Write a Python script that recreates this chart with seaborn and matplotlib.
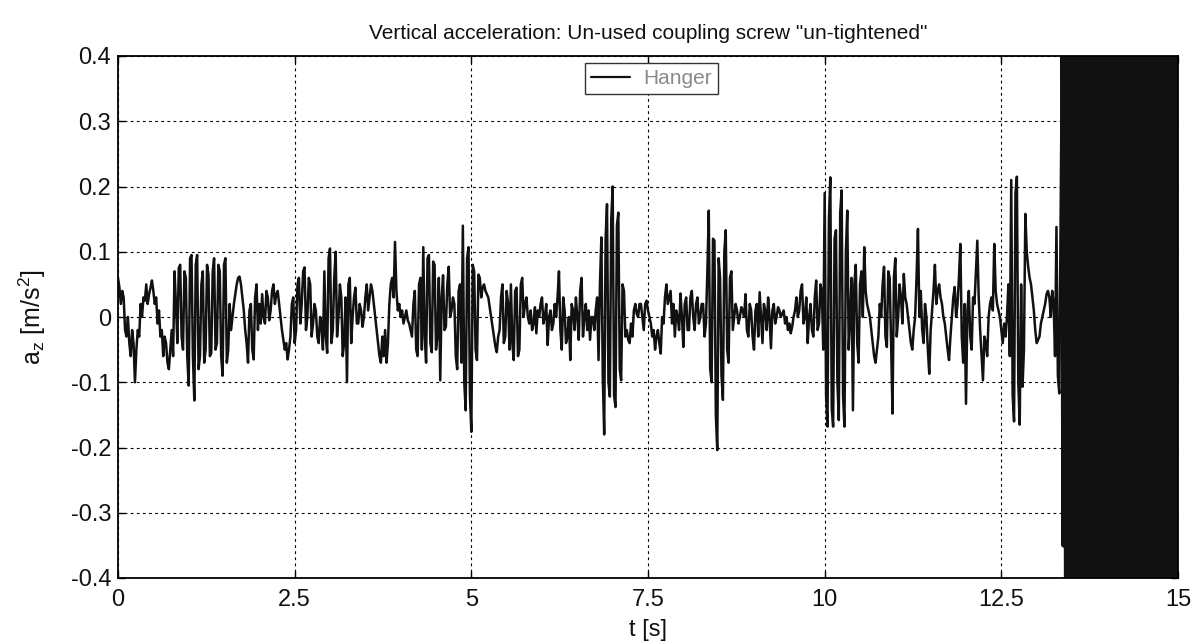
import numpy as np
import pandas as pd
import matplotlib
matplotlib.use("Agg")
import matplotlib.pyplot as plt
import seaborn as sns

# ---------------- data ----------------
dt = 0.02  # sample spacing [s]
a_main = [
    # 0.00 - 0.98 s
    0.06, 0.045, 0.02, 0.04, 0.03, -0.02, -0.03, 0.0, -0.04, -0.06,
    -0.02, -0.04, -0.10, -0.05, -0.02, -0.03, 0.02, 0.0, 0.03, 0.025,
    0.05, 0.02, 0.035, 0.045, 0.056, 0.04, 0.02, 0.03, -0.01, 0.01,
    -0.03, -0.02, -0.06, -0.03, -0.04, -0.07, -0.08, -0.05, -0.02, -0.06,
    0.07, 0.02, -0.04, 0.075, 0.08, -0.03, -0.05, 0.07, 0.06, -0.06,
    # 1.00 - 1.98 s
    -0.105, 0.09, 0.095, -0.06, -0.128, 0.08, 0.095, -0.08, -0.06, 0.05,
    0.07, -0.07, -0.05, 0.08, 0.065, -0.06, -0.055, 0.07, 0.09, -0.05,
    -0.04, 0.08, 0.07, -0.06, -0.09, 0.08, 0.09, -0.07, -0.05, 0.02,
    -0.02, 0.0, 0.02, 0.035, 0.05, 0.06, 0.062, 0.05, 0.03, 0.01,
    -0.02, -0.04, -0.07, 0.01, 0.02, -0.05, -0.065, 0.03, 0.05, -0.02,
    # 2.00 - 2.98 s
    0.02, -0.01, 0.035, 0.0, -0.01, 0.04, 0.03, -0.005, 0.01, 0.04,
    0.05, 0.02, 0.035, 0.04, 0.02, 0.0, -0.02, -0.035, -0.05, -0.04,
    -0.065, -0.05, -0.03, 0.02, 0.03, -0.04, -0.02, 0.05, 0.06, -0.01,
    0.02, 0.07, 0.076, -0.02, 0.0, 0.06, 0.05, -0.03, -0.01, 0.02,
    0.01, -0.03, -0.04, 0.0, -0.01, -0.05, 0.07, -0.03, -0.055, 0.09,
    # 3.00 - 3.98 s
    0.105, -0.04, -0.02, 0.06, 0.10, -0.03, 0.0, 0.05, 0.03, -0.06,
    -0.04, 0.03, -0.10, 0.05, 0.06, -0.04, 0.0, 0.03, 0.045, -0.01,
    -0.01, 0.02, 0.01, -0.015, 0.0, 0.03, 0.05, 0.01, 0.03, 0.05,
    0.04, 0.02, 0.0, -0.02, -0.04, -0.06, -0.07, -0.03, -0.06, -0.02,
    -0.07, -0.04, 0.02, 0.05, 0.06, 0.03, 0.115, 0.04, 0.01, 0.02,
    # 4.00 - 4.98 s
    0.0, 0.01, -0.01, 0.0, 0.01, -0.005, -0.01, -0.02, -0.03, 0.02,
    0.04, -0.05, -0.06, 0.05, 0.06, -0.05, 0.107, -0.03, -0.07, 0.09,
    0.095, -0.04, -0.054, 0.085, 0.08, -0.05, -0.03, 0.06, -0.097, 0.03,
    0.064, -0.02, -0.015, 0.05, 0.077, 0.0, 0.01, 0.03, 0.02, -0.06,
    -0.08, 0.04, 0.05, -0.07, 0.14, -0.10, -0.143, 0.09, 0.107, -0.12,
    # 5.00 - 5.98 s
    -0.176, 0.08, 0.07, -0.05, -0.066, 0.065, 0.06, 0.03, 0.045, 0.05,
    0.04, 0.035, 0.03, 0.015, 0.0, -0.015, -0.03, -0.045, -0.054, -0.03,
    -0.02, 0.03, 0.05, -0.04, -0.03, 0.04, 0.02, -0.05, 0.05, -0.04,
    -0.066, 0.04, 0.045, -0.06, -0.05, 0.05, 0.06, 0.0, 0.02, 0.03,
    0.0, -0.01, 0.01, -0.02, -0.01, 0.015, -0.025, 0.01, 0.0, 0.02,
    # 6.00 - 6.98 s
    0.03, -0.01, 0.0, 0.02, -0.043, 0.0, 0.01, -0.02, -0.01, 0.02,
    0.0, 0.03, 0.07, -0.02, -0.05, 0.03, 0.01, -0.04, -0.03, 0.0,
    -0.066, 0.02, 0.01, -0.02, 0.03, 0.0, -0.035, 0.04, 0.06, -0.03,
    0.0, 0.02, -0.02, 0.01, -0.035, 0.0, 0.0, -0.02, 0.01, 0.03,
    -0.066, 0.05, 0.122, -0.09, -0.18, 0.12, 0.173, -0.10, -0.122, 0.15,
    # 7.00 - 7.98 s
    0.20, -0.12, -0.138, 0.14, 0.16, -0.08, -0.097, 0.05, 0.04, -0.03,
    -0.02, -0.035, -0.04, -0.01, -0.03, 0.01, 0.02, 0.005, 0.0, 0.02,
    0.02, 0.0, -0.02, 0.02, 0.025, 0.01, 0.0, -0.01, -0.03, -0.02,
    -0.05, -0.03, -0.02, -0.04, -0.056, 0.0, -0.01, 0.03, 0.05, 0.02,
    0.03, 0.04, -0.01, 0.02, -0.03, 0.01, 0.0, -0.02, 0.036, 0.0,
    # 8.00 - 8.98 s
    -0.046, 0.02, 0.03, -0.02, -0.02, 0.03, 0.04, 0.0, -0.02, 0.02,
    0.03, -0.01, 0.0, 0.02, 0.02, -0.03, -0.01, 0.07, 0.163, -0.08,
    -0.10, 0.12, 0.117, -0.15, -0.204, 0.09, 0.06, -0.09, -0.127, 0.10,
    0.133, -0.05, -0.07, 0.06, 0.07, -0.02, 0.0, 0.02, 0.01, -0.01,
    0.0, 0.015, 0.01, 0.0, 0.035, -0.02, -0.03, 0.02, 0.01, -0.03,
    # 9.00 - 9.98 s
    -0.05, 0.01, 0.02, -0.03, 0.038, 0.0, -0.04, 0.02, 0.01, -0.02,
    0.03, 0.0, -0.048, 0.01, 0.02, -0.01, 0.0, 0.015, 0.01, 0.0,
    0.005, 0.01, -0.01, 0.0, -0.02, -0.01, -0.025, -0.015, 0.0, 0.01,
    0.03, 0.0, 0.01, 0.04, 0.05, -0.01, 0.0, 0.03, -0.04, 0.0,
    0.02, -0.02, -0.03, 0.03, 0.056, -0.02, -0.01, 0.05, 0.04, -0.05,
    # 10.00 - 10.98 s
    0.19, -0.12, -0.168, 0.15, 0.214, -0.14, -0.168, 0.12, 0.133, -0.10,
    -0.158, 0.16, 0.194, -0.12, -0.168, 0.10, 0.163, -0.05, 0.0, 0.06,
    -0.143, 0.05, 0.08, -0.04, -0.07, 0.05, 0.07, 0.0, 0.107, 0.04,
    0.02, 0.01, 0.0, -0.02, -0.04, -0.06, -0.07, -0.05, -0.03, 0.02,
    0.0, 0.05, 0.077, -0.03, -0.046, 0.07, 0.06, -0.04, -0.148, 0.06,
    # 11.00 - 11.98 s
    0.09, -0.03, 0.0, 0.05, 0.03, -0.01, 0.066, 0.03, 0.02, 0.0,
    -0.02, -0.04, -0.05, -0.02, 0.0, 0.06, 0.135, 0.0, 0.04, -0.02,
    -0.04, 0.02, 0.0, -0.05, -0.087, -0.02, 0.01, 0.04, 0.08, 0.02,
    0.04, 0.05, 0.03, 0.02, 0.0, -0.01, -0.03, -0.05, -0.066, -0.03,
    0.0, 0.03, 0.046, 0.0, 0.02, 0.06, 0.112, -0.03, -0.07, 0.02,
    # 12.00 - 12.98 s
    -0.133, 0.01, 0.04, -0.03, -0.05, 0.03, 0.02, 0.07, 0.117, 0.03,
    -0.02, -0.06, -0.097, -0.03, -0.04, -0.06, 0.0, 0.02, 0.03, 0.01,
    0.112, 0.04, 0.02, 0.01, 0.0, -0.02, -0.04, -0.01, -0.03, 0.0,
    0.05, -0.06, 0.21, -0.12, -0.16, 0.19, 0.215, -0.10, -0.165, 0.05,
    -0.107, -0.05, 0.158, 0.10, 0.077, 0.06, 0.05, 0.03, 0.01, -0.02,
    # 13.00 - 13.36 s
    -0.04, -0.035, -0.03, -0.01, 0.0, 0.01, 0.02, 0.035, 0.04, 0.03,
    0.0, 0.04, 0.02, -0.06, 0.138, -0.09, -0.117, 0.16, 0.45,
]

# unstable oscillation from ~13.38 s on (saturates the plot)
a_burst = [
    -0.35, 0.42, -0.60, 0.70, -0.78, 0.82, -0.85, 0.88, -0.86, 0.90,
    -0.88, 0.86, -0.90, 0.88, -0.87, 0.91, -0.89, 0.87, -0.90, 0.88,
    -0.86, 0.90, -0.88, 0.89, -0.91, 0.87, -0.88, 0.90, -0.86, 0.89,
    -0.90, 0.88, -0.87, 0.91, -0.89, 0.86, -0.90, 0.88, -0.88, 0.90,
    -0.86, 0.89, -0.91, 0.87, -0.88, 0.90, -0.89, 0.88, -0.87, 0.91,
    -0.90, 0.86, -0.88, 0.89, -0.90, 0.88, -0.86, 0.90, -0.89, 0.87,
    -0.91, 0.88, -0.87, 0.90, -0.88, 0.89, -0.86, 0.91, -0.90, 0.88,
    -0.87, 0.89, -0.90, 0.86, -0.88, 0.90, -0.89, 0.87, -0.91, 0.88,
    -0.87, 0.90,
]

x_ticks = [0, 2.5, 5, 7.5, 10, 12.5, 15]
x_ticklabels = ["0", "2.5", "5", "7.5", "10", "12.5", "15"]
y_ticks = [-0.4, -0.3, -0.2, -0.1, 0, 0.1, 0.2, 0.3, 0.4]
y_ticklabels = ["-0.4", "-0.3", "-0.2", "-0.1", "0", "0.1", "0.2", "0.3", "0.4"]

title = 'Vertical acceleration: Un-used coupling screw "un-tightened"'
series_name = "Hanger"

# ---------------- build tables ----------------
n_main = len(a_main)
a_all = np.array(a_main + a_burst)
t_all = np.arange(len(a_all)) * dt
df = pd.DataFrame({"t": t_all, "a": a_all, "series": series_name})
df_main = df.iloc[:n_main]
df_burst = df.iloc[n_main - 1:]

# ---------------- style ----------------
sns.set_theme(style="white")
plt.rcParams["font.family"] = ["Liberation Sans", "DejaVu Sans"]
plt.rcParams["mathtext.fontset"] = "custom"
plt.rcParams["mathtext.rm"] = "Liberation Sans"
plt.rcParams["mathtext.it"] = "Liberation Sans"
plt.rcParams["axes.unicode_minus"] = False

fig = plt.figure(figsize=(12.03, 6.44), dpi=100)
ax = fig.add_axes([118 / 1203, 1 - 578 / 644, 1060 / 1203, 522 / 644])

line_color = "#111111"
sns.lineplot(data=df_main, x="t", y="a", hue="series", palette=[line_color],
             estimator=None, sort=False, linewidth=1.8, ax=ax)
sns.lineplot(data=df_burst, x="t", y="a", color=line_color,
             estimator=None, sort=False, linewidth=3.2, legend=False, ax=ax)

ax.set_xlim(0, 15)
ax.set_ylim(-0.4, 0.4)
ax.set_xticks(x_ticks)
ax.set_xticklabels(x_ticklabels)
ax.set_yticks(y_ticks)
ax.set_yticklabels(y_ticklabels)

ax.grid(True, color="black", linestyle=(0, (2.5, 3)), linewidth=0.8)
ax.set_axisbelow(True)
for sp in ax.spines.values():
    sp.set_visible(True)
    sp.set_color("black")
    sp.set_linewidth(1.3)

ax.tick_params(axis="both", which="both", direction="in", length=5,
               width=1, color="black", labelsize=17, labelcolor="#111111",
               top=True, right=True, bottom=True, left=True)
ax.tick_params(axis="x", pad=8)
ax.tick_params(axis="y", pad=5)

ax.set_title(title, fontsize=15, color="#111111", pad=12)
ax.set_xlabel("t [s]", fontsize=17, color="#111111", labelpad=6)
ax.set_ylabel(r"a$_{\rm z}$ [m/s$^{\rm 2}$]", fontsize=18, color="#111111",
              labelpad=16)

leg = ax.legend(loc="upper center", bbox_to_anchor=(0.503, 0.987),
                borderaxespad=0, fancybox=False, framealpha=1,
                edgecolor="#333333", fontsize=15, handlelength=1.9,
                borderpad=0.3, handletextpad=0.6)
leg.get_frame().set_linewidth(1.0)
for txt in leg.get_texts():
    txt.set_color("#8a8a8a")
for ln in leg.get_lines():
    ln.set_linewidth(1.6)

fig.savefig("out.png", dpi=100, facecolor="white")
